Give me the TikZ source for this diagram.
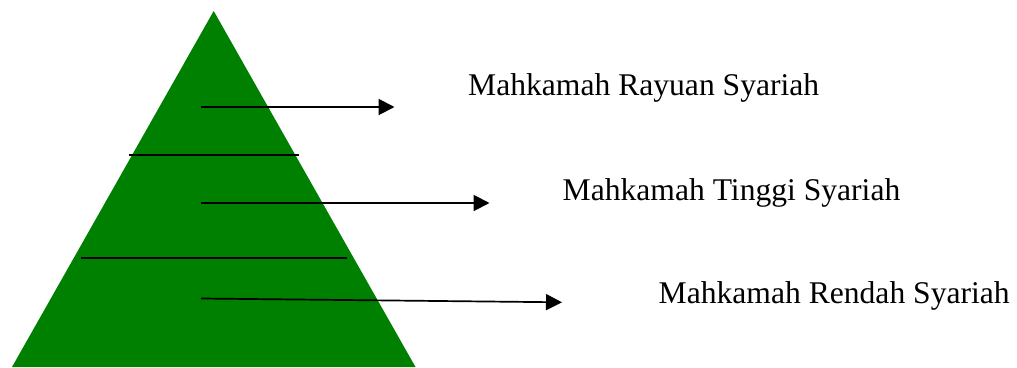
\documentclass[tikz,border=0pt]{standalone}
\usepackage{fontspec}
\setmainfont{Liberation Serif}
\usetikzlibrary{arrows.meta}
\definecolor{pyrgreen}{RGB}{0,128,0}
\tikzset{
  divider/.style={line width=2pt, black},
  pointer/.style={line width=2pt, black, -{Triangle[length=16pt,width=16pt]}},
  label/.style={anchor=base west, inner sep=0pt, font=\fontsize{31.6}{38}\selectfont}
}
\begin{document}
\begin{tikzpicture}[x=1pt,y=-1pt]
\useasboundingbox (0,0) rectangle (1017,367);
% pyramid
\coordinate (apex) at (213.7,11);
\coordinate (bl) at (12,367);
\coordinate (br) at (415.5,367);
\fill[pyrgreen] (apex) -- (bl) -- (br) -- cycle;
% dividers
\coordinate (d1l) at (129,155);
\coordinate (d1r) at (299,155);
\coordinate (d2l) at (81,257.7);
\coordinate (d2r) at (347,257.7);
\draw[divider] (d1l) -- (d1r);
\draw[divider] (d2l) -- (d2r);
% arrows
\coordinate (a1s) at (201,107);
\coordinate (a1e) at (394.5,107);
\coordinate (a2s) at (201,203);
\coordinate (a2e) at (489.5,203);
\coordinate (a3s) at (201,298.5);
\coordinate (a3e) at (562,302.3);
\draw[pointer] (a1s) -- (a1e);
\draw[pointer] (a2s) -- (a2e);
\draw[pointer, line width=1.7pt] (a3s) -- (a3e);
% labels
\node[label] (rayuan) at (468,95) {Mahkamah Rayuan Syariah};
\node[label] (tinggi) at (562.5,200) {Mahkamah Tinggi Syariah};
\node[label] (rendah) at (658.5,303.3) {Mahkamah Rendah Syariah};
\end{tikzpicture}
\end{document}
